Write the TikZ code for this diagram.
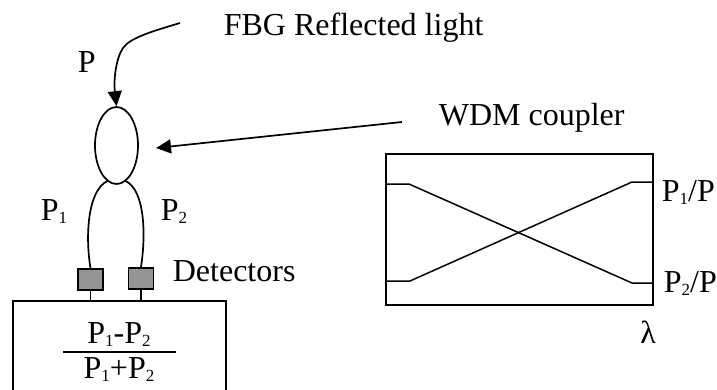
\documentclass[tikz,border=0pt]{standalone}
\usepackage{fontspec}
\setmainfont{Liberation Serif}
\usetikzlibrary{arrows.meta,shapes.geometric}
\newcommand{\psub}[1]{\raisebox{-3.5pt}{\fontsize{17}{17}\selectfont #1}}

\begin{document}
\begin{tikzpicture}[
    x=1pt, y=-1pt, line width=1.7pt,
    font=\fontsize{32}{36}\selectfont, >={Triangle[length=15pt,width=14pt]},
    lab/.style={anchor=base west,inner sep=0pt},
    det/.style={rectangle,draw=black,line width=1.8pt,fill=black!42,inner sep=0pt,
                minimum width=25pt,minimum height=21pt},
    wire/.style={line width=1.5pt},
    frame/.style={rectangle,draw=black,fill=none,inner sep=0pt}]

  \useasboundingbox (0,0) rectangle (717,389);

  % coupler and detectors
  \node[draw,ellipse,minimum width=43pt,minimum height=77pt,inner sep=0pt] (cpl) at (116.5,145.5) {};
  \node[det] (d1) at (90.5,279.5) {};
  \node[det] (d2) at (141,278.5) {};
  \node[frame,minimum width=213pt,minimum height=100pt] (calc) at (119.5,351) {};

  % input light and pointer
  \node[lab] (fbg) at (223,35) {FBG Reflected light};
  \node[lab] (wdm) at (438,125) {WDM coupler};
  \coordinate (in) at (180,23);
  \coordinate (ptr) at (402,122);
  \draw[->] (in) .. controls (150,32) and (130,38) .. (123,48) .. controls (116,58) and (113.5,80) .. (cpl.north);
  \draw[->] (ptr) -- (156,148);

  % fibre loop
  \draw (107.5,181) .. controls (88,190) and (85,235) .. (d1.north);
  \draw (125.5,181) .. controls (145,190) and (146,235) .. (d2.north);
  \draw[wire] (d1.south) -- (d1.south |- calc.north);
  \draw[wire] (d2.south) -- (d2.south |- calc.north);

  \node[lab] (pin) at (77,72) {P};
  \node[lab] (p1) at (40,220) {P\psub{1}};
  \node[lab] (p2) at (160,220) {P\psub{2}};
  \node[lab] (dlab) at (172,281) {Detectors};

  % ratio
  \node[inner sep=0pt,anchor=base] (num) at (119,343) {P\psub{1}-P\psub{2}};
  \node[inner sep=0pt,anchor=base] (den) at (119,378) {P\psub{1}+P\psub{2}};
  \draw[wire] (63,352) -- (176,352);

  % response
  \node[frame,minimum width=267pt,minimum height=151pt] (resp) at (519.5,229.5) {};
  \draw[wire] (resp.west |- 0,184) -- (409,184) -- (632,283) -- (resp.east |- 0,283);
  \draw[wire] (resp.west |- 0,281) -- (410,281) -- (632,182) -- (resp.east |- 0,182);

  \node[lab] (r1) at (661,201) {P\psub{1}/P};
  \node[lab] (r2) at (663,292) {P\psub{2}/P};
  \node[inner sep=0pt,anchor=base] (lam) at (648,343) {λ};
\end{tikzpicture}
\end{document}
